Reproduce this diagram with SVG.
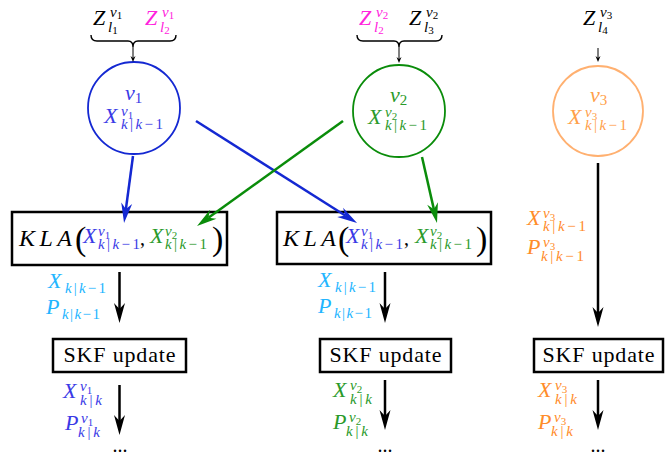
<svg xmlns="http://www.w3.org/2000/svg" width="671" height="457" viewBox="0 0 671 457">
<style>
text{font-family:'Liberation Serif','DejaVu Serif','Times New Roman',serif}
.m{font-size:22px;font-style:italic}
.s{font-size:15px;font-style:italic}
.ss{font-size:11px;font-style:normal}
.r{font-style:normal}
.box{fill:#fff;stroke:#000;stroke-width:2.5}
.skf{font-size:22px;text-anchor:middle}
.kla{font-size:24px;font-style:italic}
.blue{fill:#3a3ae6}
.green{fill:#2a9a2a}
.orange{fill:#ff8c2a}
.lorange{fill:#ffa04a}
.cyan{fill:#22b5ff}
.mag{fill:#ff22dd}
.blk{fill:#000}
.brace{fill:none;stroke:#000;stroke-width:1.4}
</style>
<defs>
<marker id="ab" viewBox="-21 -6 22 12" markerUnits="userSpaceOnUse" markerWidth="22" markerHeight="12" refX="-14" refY="0" orient="auto"><path d="M0,0 L-20,-5.5 L-14,0 L-20,5.5 Z" fill="#000"/></marker>
<marker id="abl" viewBox="-21 -6 22 12" markerUnits="userSpaceOnUse" markerWidth="22" markerHeight="12" refX="-14" refY="0" orient="auto"><path d="M0,0 L-20,-5.5 L-14,0 L-20,5.5 Z" fill="#1428d2"/></marker>
<marker id="agr" viewBox="-21 -6 22 12" markerUnits="userSpaceOnUse" markerWidth="22" markerHeight="12" refX="-14" refY="0" orient="auto"><path d="M0,0 L-20,-5.5 L-14,0 L-20,5.5 Z" fill="#0a8c0a"/></marker>
<marker id="as" viewBox="-7 -3 8 6" markerUnits="userSpaceOnUse" markerWidth="8" markerHeight="6" refX="-4" refY="0" orient="auto"><path d="M0,0 L-6,-2.5 L-4,0 L-6,2.5 Z" fill="#000"/></marker>
</defs>

<g id="measurements">
  <g class="blk"><text class="m" x="93" y="25">Z</text><text class="s" x="110" y="17">v<tspan class="ss" dy="2">1</tspan></text><text class="s" x="108" y="32">l<tspan class="ss" dy="2">1</tspan></text></g>
  <g class="mag"><text class="m" x="145" y="25">Z</text><text class="s" x="162" y="17">v<tspan class="ss" dy="2">1</tspan></text><text class="s" x="160" y="32">l<tspan class="ss" dy="2">2</tspan></text></g>
  <path class="brace" d="M91,35 Q91,41 97,41 L128,41 Q133,41 133,47 Q133,41 138,41 L170,41 Q176,41 176,35"/>
  <g class="mag"><text class="m" x="359" y="25">Z</text><text class="s" x="376" y="17">v<tspan class="ss" dy="2">2</tspan></text><text class="s" x="374" y="32">l<tspan class="ss" dy="2">2</tspan></text></g>
  <g class="blk"><text class="m" x="409" y="25">Z</text><text class="s" x="426" y="17">v<tspan class="ss" dy="2">2</tspan></text><text class="s" x="424" y="32">l<tspan class="ss" dy="2">3</tspan></text></g>
  <path class="brace" d="M357,35 Q357,41 363,41 L394,41 Q399,41 399,47 Q399,41 404,41 L436,41 Q442,41 442,35"/>
  <g class="blk"><text class="m" x="583" y="25">Z</text><text class="s" x="600" y="17">v<tspan class="ss" dy="2">3</tspan></text><text class="s" x="598" y="32">l<tspan class="ss" dy="2">4</tspan></text></g>
</g>

<g id="v1">
  <circle cx="134" cy="108" r="46" fill="none" stroke="#1428d2" stroke-width="1.8"/>
  <text class="m blue" x="125" y="100">v<tspan class="s r" dy="3">1</tspan></text>
  <g class="blue" transform="translate(104,123)"><text class="m">X</text><text class="s" x="17" y="-7">v<tspan class="ss" dy="3">1</tspan></text><text class="s" x="17" y="6" textLength="42" lengthAdjust="spacing">k<tspan class="r">|</tspan>k<tspan class="r">−1</tspan></text></g>
</g>
<g id="v2">
  <circle cx="399" cy="111" r="46" fill="none" stroke="#0a8c0a" stroke-width="1.8"/>
  <text class="m green" x="390" y="102">v<tspan class="s r" dy="3">2</tspan></text>
  <g class="green" transform="translate(368,124)"><text class="m">X</text><text class="s" x="17" y="-7">v<tspan class="ss" dy="3">2</tspan></text><text class="s" x="17" y="6" textLength="42" lengthAdjust="spacing">k<tspan class="r">|</tspan>k<tspan class="r">−1</tspan></text></g>
</g>
<g id="v3">
  <circle cx="598" cy="111" r="45" fill="none" stroke="#ffb070" stroke-width="1.8"/>
  <text class="m lorange" x="590" y="102">v<tspan class="s r" dy="3">3</tspan></text>
  <g class="lorange" transform="translate(568,124)"><text class="m">X</text><text class="s" x="17" y="-7">v<tspan class="ss" dy="3">3</tspan></text><text class="s" x="17" y="6" textLength="42" lengthAdjust="spacing">k<tspan class="r">|</tspan>k<tspan class="r">−1</tspan></text></g>
</g>

<g id="kla1">
  <rect class="box" x="12" y="212" width="215" height="53"/>
  <text class="kla" x="19" y="246" textLength="53" lengthAdjust="spacing">KLA</text>
  <text class="r" x="75" y="250" font-size="34">(</text>
  <g class="blue" transform="translate(83,243)"><text class="m">X</text><text class="s" x="15" y="-7">v<tspan class="ss" dy="3">1</tspan></text><text class="s" x="15" y="6" textLength="42" lengthAdjust="spacing">k<tspan class="r">|</tspan>k<tspan class="r">−1</tspan></text></g>
  <text class="r" x="140" y="245" font-size="20">,</text>
  <g class="green" transform="translate(150,243)"><text class="m">X</text><text class="s" x="15" y="-7">v<tspan class="ss" dy="3">2</tspan></text><text class="s" x="15" y="6" textLength="42" lengthAdjust="spacing">k<tspan class="r">|</tspan>k<tspan class="r">−1</tspan></text></g>
  <text class="r" x="212" y="250" font-size="34">)</text>
</g>
<g id="kla2">
  <rect class="box" x="277" y="212" width="214" height="52"/>
  <text class="kla" x="283" y="246" textLength="53" lengthAdjust="spacing">KLA</text>
  <text class="r" x="338" y="250" font-size="34">(</text>
  <g class="blue" transform="translate(346,243)"><text class="m">X</text><text class="s" x="15" y="-7">v<tspan class="ss" dy="3">1</tspan></text><text class="s" x="15" y="6" textLength="42" lengthAdjust="spacing">k<tspan class="r">|</tspan>k<tspan class="r">−1</tspan></text></g>
  <text class="r" x="404" y="245" font-size="20">,</text>
  <g class="green" transform="translate(415,243)"><text class="m">X</text><text class="s" x="15" y="-7">v<tspan class="ss" dy="3">2</tspan></text><text class="s" x="15" y="6" textLength="42" lengthAdjust="spacing">k<tspan class="r">|</tspan>k<tspan class="r">−1</tspan></text></g>
  <text class="r" x="476" y="250" font-size="34">)</text>
</g>

<g id="skf1"><rect class="box" x="53" y="339" width="133" height="33"/><text class="skf" x="119.5" y="362" textLength="112" lengthAdjust="spacing">SKF update</text></g>
<g id="skf2"><rect class="box" x="320" y="339" width="131" height="33"/><text class="skf" x="385.5" y="362" textLength="112" lengthAdjust="spacing">SKF update</text></g>
<g id="skf3"><rect class="box" x="534" y="339" width="129" height="33"/><text class="skf" x="598.5" y="362" textLength="112" lengthAdjust="spacing">SKF update</text></g>

<g id="labels">
  <g class="cyan" transform="translate(48,288)"><text class="m">X</text><text class="s" x="17" y="5" textLength="41" lengthAdjust="spacing">k<tspan class="r">|</tspan>k<tspan class="r">−1</tspan></text></g>
  <g class="cyan" transform="translate(46,314)"><text class="m">P</text><text class="s" x="16" y="5" textLength="38" lengthAdjust="spacing">k<tspan class="r">|</tspan>k<tspan class="r">−1</tspan></text></g>
  <g class="cyan" transform="translate(318,287)"><text class="m">X</text><text class="s" x="17" y="5" textLength="41" lengthAdjust="spacing">k<tspan class="r">|</tspan>k<tspan class="r">−1</tspan></text></g>
  <g class="cyan" transform="translate(318,313)"><text class="m">P</text><text class="s" x="16" y="5" textLength="38" lengthAdjust="spacing">k<tspan class="r">|</tspan>k<tspan class="r">−1</tspan></text></g>

  <g class="orange" transform="translate(527,225)"><text class="m">X</text><text class="s" x="16" y="-7">v<tspan class="ss" dy="3">3</tspan></text><text class="s" x="16" y="6" textLength="43" lengthAdjust="spacing">k<tspan class="r">|</tspan>k<tspan class="r">−1</tspan></text></g>
  <g class="orange" transform="translate(527,254)"><text class="m">P</text><text class="s" x="16" y="-7">v<tspan class="ss" dy="3">3</tspan></text><text class="s" x="14" y="7" textLength="43" lengthAdjust="spacing">k<tspan class="r">|</tspan>k<tspan class="r">−1</tspan></text></g>

  <g class="blue" transform="translate(63,398)"><text class="m">X</text><text class="s" x="17" y="-7">v<tspan class="ss" dy="3">1</tspan></text><text class="s" x="17" y="7" textLength="22" lengthAdjust="spacing">k<tspan class="r">|</tspan>k</text></g>
  <g class="blue" transform="translate(65,430)"><text class="m">P</text><text class="s" x="16" y="-7">v<tspan class="ss" dy="3">1</tspan></text><text class="s" x="13" y="7" textLength="22" lengthAdjust="spacing">k<tspan class="r">|</tspan>k</text></g>
  <g class="green" transform="translate(333,397)"><text class="m">X</text><text class="s" x="17" y="-7">v<tspan class="ss" dy="3">2</tspan></text><text class="s" x="17" y="7" textLength="22" lengthAdjust="spacing">k<tspan class="r">|</tspan>k</text></g>
  <g class="green" transform="translate(333,429)"><text class="m">P</text><text class="s" x="16" y="-7">v<tspan class="ss" dy="3">2</tspan></text><text class="s" x="13" y="7" textLength="22" lengthAdjust="spacing">k<tspan class="r">|</tspan>k</text></g>
  <g class="orange" transform="translate(538,397)"><text class="m">X</text><text class="s" x="17" y="-7">v<tspan class="ss" dy="3">3</tspan></text><text class="s" x="17" y="7" textLength="22" lengthAdjust="spacing">k<tspan class="r">|</tspan>k</text></g>
  <g class="orange" transform="translate(538,429)"><text class="m">P</text><text class="s" x="16" y="-7">v<tspan class="ss" dy="3">3</tspan></text><text class="s" x="13" y="7" textLength="22" lengthAdjust="spacing">k<tspan class="r">|</tspan>k</text></g>

  <text x="120" y="452" font-size="20" text-anchor="middle">...</text>
  <text x="385" y="452" font-size="20" text-anchor="middle">...</text>
  <text x="598" y="452" font-size="20" text-anchor="middle">...</text>
</g>

<g id="connectors" fill="none">
  <line x1="133" y1="47" x2="133" y2="58" stroke="#000" stroke-width="1" marker-end="url(#as)"/>
  <line x1="399" y1="47" x2="399" y2="59" stroke="#000" stroke-width="1" marker-end="url(#as)"/>
  <line x1="598" y1="48" x2="598" y2="58" stroke="#000" stroke-width="1" marker-end="url(#as)"/>
  <line x1="133" y1="156" x2="125.9" y2="209.1" stroke="#1428d2" stroke-width="2.5" marker-end="url(#abl)"/>
  <line x1="196" y1="121" x2="345.2" y2="215.5" stroke="#1428d2" stroke-width="2.5" marker-end="url(#abl)"/>
  <line x1="343" y1="121" x2="208.4" y2="217.8" stroke="#0a8c0a" stroke-width="2.5" marker-end="url(#agr)"/>
  <line x1="422" y1="157" x2="433.9" y2="209.35" stroke="#0a8c0a" stroke-width="2.5" marker-end="url(#agr)"/>
  <line x1="119.5" y1="272" x2="119.5" y2="309" stroke="#000" stroke-width="2.5" marker-end="url(#ab)"/>
  <line x1="385" y1="272" x2="385" y2="309" stroke="#000" stroke-width="2.5" marker-end="url(#ab)"/>
  <line x1="598" y1="163" x2="598" y2="313" stroke="#000" stroke-width="2.5" marker-end="url(#ab)"/>
  <line x1="119.5" y1="385" x2="119.5" y2="421" stroke="#000" stroke-width="2.5" marker-end="url(#ab)"/>
  <line x1="385" y1="380" x2="385" y2="416" stroke="#000" stroke-width="2.5" marker-end="url(#ab)"/>
  <line x1="598" y1="380" x2="598" y2="416" stroke="#000" stroke-width="2.5" marker-end="url(#ab)"/>
</g>
</svg>
